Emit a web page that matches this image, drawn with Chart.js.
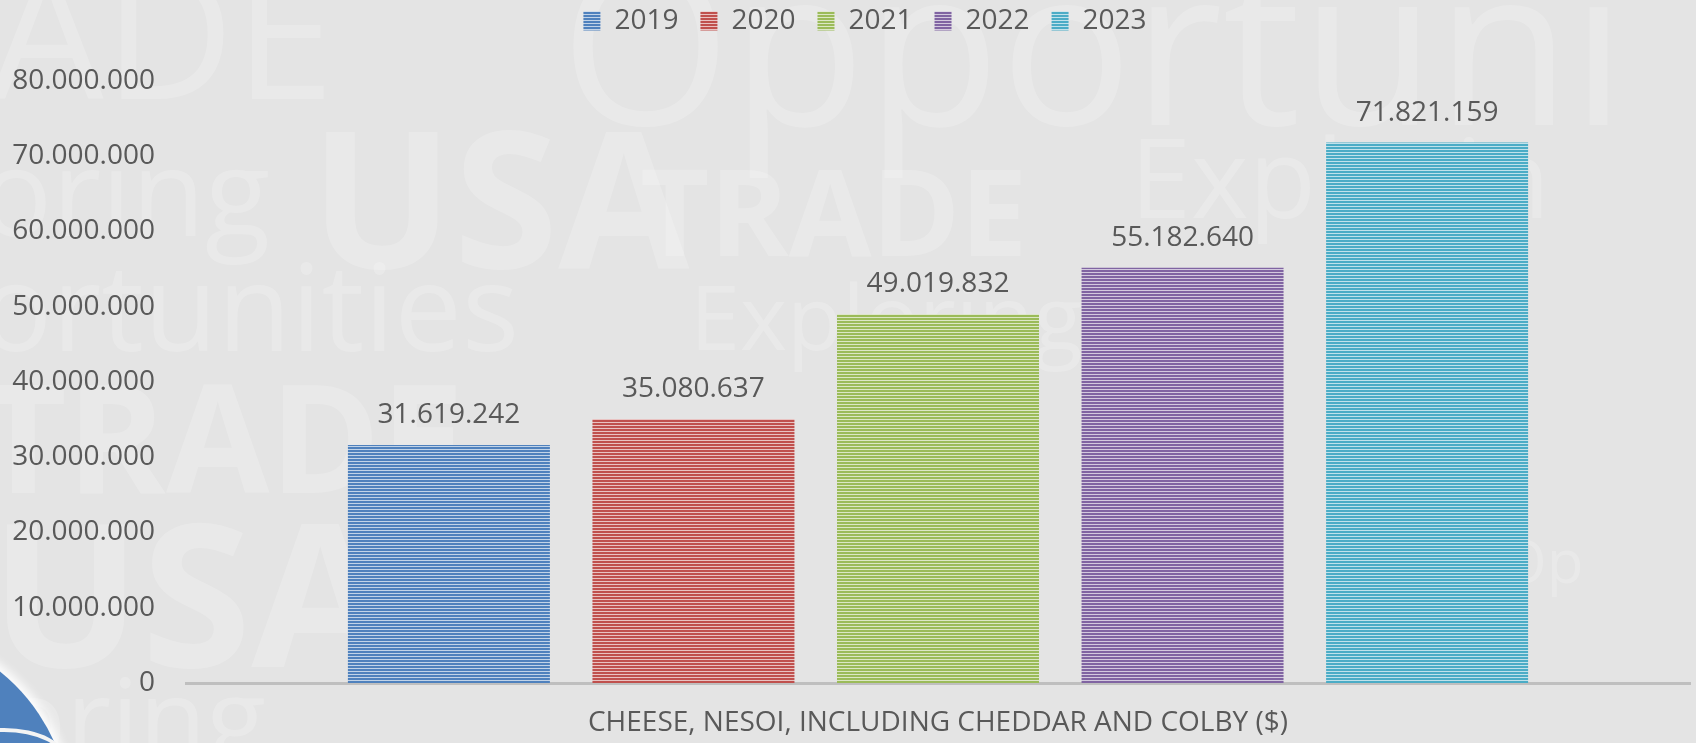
<!DOCTYPE html>
<html lang="en">
<head>
  <meta charset="UTF-8">
  <title>Cheese exports 2019-2023</title>
  <script src="https://cdn.jsdelivr.net/npm/chart.js"></script>
  <style>
    html, body { margin: 0; padding: 0; }
    body { width: 1696px; height: 743px; background: #e4e4e4; overflow: hidden; position: relative; font-family: 'Open Sans', sans-serif; }
    .wm { position: absolute; color: rgba(255,255,255,0.2); white-space: nowrap; line-height: 1; }
    .b { font-weight: 700; }
    .logo { position: absolute; left: -311px; top: 629px; width: 382px; height: 382px; border-radius: 50%; background: #4f81bd; box-shadow: 4px -4px 10px rgba(255,255,255,0.9); }
    .ring { position: absolute; left: -60px; top: 728px; width: 120px; height: 60px; border-radius: 50%; border: 4px solid #f4f4f4; }
    .wrap { position: absolute; left: 0; top: 0; width: 1696px; height: 743px; }
  </style>
</head>
<body>

<div class="wm" style="left:-10px; top:-60px; font-size:180px;">ADE</div>
<div class="wm" style="left:560px; top:-70px; font-size:220px;">Opportuni</div>
<div class="wm" style="left:-20px; top:130px; font-size:120px;">oring</div>
<div class="wm b" style="left:310px; top:100px; font-size:190px;">USA</div>
<div class="wm b" style="left:640px; top:150px; font-size:120px;">TRADE</div>
<div class="wm" style="left:1130px; top:120px; font-size:110px;">Explorin</div>
<div class="wm" style="left:-20px; top:245px; font-size:120px;">ortunities</div>
<div class="wm" style="left:690px; top:270px; font-size:90px;">Exploring</div>
<div class="wm b" style="left:-20px; top:360px; font-size:150px;">TRADE</div>
<div class="wm b" style="left:-10px; top:490px; font-size:200px;">USA</div>
<div class="wm" style="left:1500px; top:530px; font-size:60px;">Op</div>
<div class="wm" style="left:0px; top:660px; font-size:110px;">oring</div>
<div class="logo"></div>
<div class="ring"></div>

<div class="wrap"><canvas id="chart" width="1696" height="743"></canvas></div>

<script>
const categories = ["CHEESE, NESOI, INCLUDING CHEDDAR AND COLBY ($)"];
const years = ["2019", "2020", "2021", "2022", "2023"];
const values2019 = [31619242];
const values2020 = [35080637];
const values2021 = [49019832];
const values2022 = [55182640];
const values2023 = [71821159];
const yTicks = [0, 10000000, 20000000, 30000000, 40000000, 50000000, 60000000, 70000000, 80000000];

const colors = ['#4f81bd', '#c0504d', '#9bbb59', '#8064a2', '#4bacc6'];
const textColor = '#595959';

function mix(hex, amt) {
  const n = parseInt(hex.slice(1), 16);
  const r = n >> 16, g = (n >> 8) & 255, b = n & 255;
  const f = c => Math.round(c + (255 - c) * amt);
  return `rgb(${f(r)},${f(g)},${f(b)})`;
}

// horizontal stripe fill like the Excel pattern
function stripes(hex) {
  const c = document.createElement('canvas');
  c.width = 4; c.height = 3;
  const x = c.getContext('2d');
  x.fillStyle = mix(hex, 0.65);
  x.fillRect(0, 0, 4, 3);
  x.fillStyle = hex;
  x.fillRect(0, 0, 4, 2);
  return x.createPattern(c, 'repeat');
}

const dots = v => String(v).replace(/\B(?=(\d{3})+(?!\d))/g, '.');

const seriesValues = [values2019, values2020, values2021, values2022, values2023];

const valueLabels = {
  id: 'valueLabels',
  afterDatasetsDraw(chart) {
    const ctx = chart.ctx;
    ctx.save();
    ctx.font = '28px "Open Sans"';
    ctx.fillStyle = textColor;
    ctx.textAlign = 'center';
    ctx.textBaseline = 'middle';
    chart.data.datasets.forEach((ds, i) => {
      chart.getDatasetMeta(i).data.forEach((bar, j) => {
        ctx.fillText(dots(ds.data[j]), bar.x, bar.y - 30);
      });
    });
    ctx.restore();
  }
};

// extra space under the legend, and nudge it a little to the right
const legendGap = {
  id: 'legendGap',
  beforeUpdate(chart) {
    const lg = chart.legend;
    if (lg && !lg._gapped) {
      const fit = lg.fit;
      lg.fit = function () { fit.call(this); this.height += 36; };
      lg._gapped = true;
    }
  },
  afterLayout(chart) {
    chart.legend.left += 14;
    chart.legend.right += 14;
  }
};

new Chart(document.getElementById('chart'), {
  type: 'bar',
  data: {
    labels: categories,
    datasets: years.map((y, i) => ({
      label: y,
      data: seriesValues[i],
      backgroundColor: stripes(colors[i]),
      borderWidth: 0,
      categoryPercentage: 0.813,
      barPercentage: 0.826
    }))
  },
  options: {
    responsive: false,
    animation: false,
    events: [],
    layout: { padding: { left: 12, right: 6, top: -15, bottom: 0 } },
    plugins: {
      legend: {
        position: 'top',
        labels: {
          color: textColor,
          font: { family: 'Open Sans', size: 28 },
          boxWidth: 17,
          boxHeight: 19,
          padding: 22
        }
      },
      tooltip: { enabled: false }
    },
    scales: {
      x: {
        grid: { display: false, drawTicks: false },
        border: { display: true, color: '#bfbfbf', width: 3 },
        ticks: { color: textColor, font: { family: 'Open Sans', size: 28 }, padding: 23 },
        afterFit: axis => { axis.height = 60; }
      },
      y: {
        min: 0,
        max: 80000000,
        afterBuildTicks: axis => { axis.ticks = yTicks.map(v => ({ value: v })); },
        grid: { display: false, drawTicks: false },
        border: { display: false },
        ticks: {
          color: textColor,
          font: { family: 'Open Sans', size: 28 },
          padding: 31,
          callback: v => dots(v)
        },
        afterFit: axis => { axis.width = 174; }
      }
    }
  },
  plugins: [valueLabels, legendGap]
});
</script>

</body>
</html>
